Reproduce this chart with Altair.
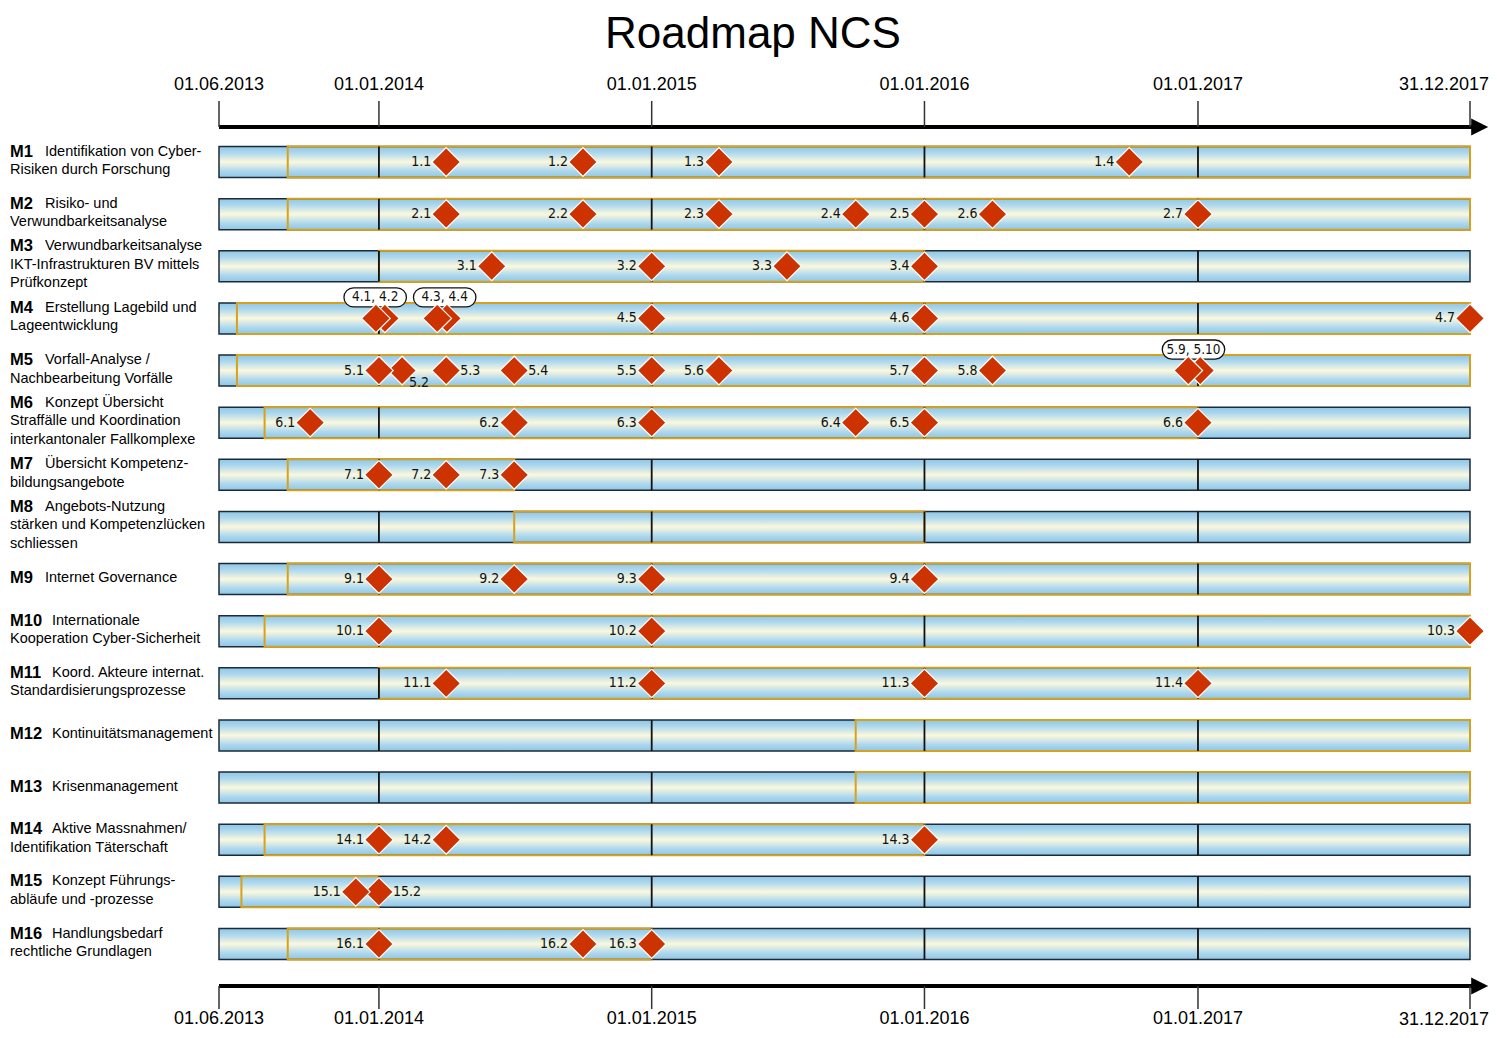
import altair as alt
import pandas as pd

# ---------------- data ----------------
title_text = "Roadmap NCS"

row_codes = ["M1", "M2", "M3", "M4", "M5", "M6", "M7", "M8",
             "M9", "M10", "M11", "M12", "M13", "M14", "M15", "M16"]
row_desc = [
    ["Identifikation von Cyber-", "Risiken durch Forschung"],
    ["Risiko- und", "Verwundbarkeitsanalyse"],
    ["Verwundbarkeitsanalyse", "IKT-Infrastrukturen BV mittels", "Prüfkonzept"],
    ["Erstellung Lagebild und", "Lageentwicklung"],
    ["Vorfall-Analyse /", "Nachbearbeitung Vorfälle"],
    ["Konzept Übersicht", "Straffälle und Koordination", "interkantonaler Fallkomplexe"],
    ["Übersicht Kompetenz-", "bildungsangebote"],
    ["Angebots-Nutzung", "stärken und Kompetenzlücken", "schliessen"],
    ["Internet Governance"],
    ["Internationale", "Kooperation Cyber-Sicherheit"],
    ["Koord. Akteure internat.", "Standardisierungsprozesse"],
    ["Kontinuitätsmanagement"],
    ["Krisenmanagement"],
    ["Aktive Massnahmen/", "Identifikation Täterschaft"],
    ["Konzept Führungs-", "abläufe und -prozesse"],
    ["Handlungsbedarf", "rechtliche Grundlagen"],
]
act_start = ["2013-09-01", "2013-09-01", "2014-01-01", "2013-06-25", "2013-06-25", "2013-08-01",
             "2013-09-01", "2014-07-01", "2013-09-01", "2013-08-01", "2014-01-01", "2015-10-01",
             "2015-10-01", "2013-08-01", "2013-07-01", "2013-09-01"]
act_end = ["2017-12-31", "2017-12-31", "2016-01-01", "2017-12-31", "2017-12-31", "2017-01-01",
           "2014-07-01", "2016-01-01", "2017-12-31", "2017-12-31", "2017-12-31", "2017-12-31",
           "2017-12-31", "2016-01-01", "2014-01-01", "2015-01-01"]

span_start = "2013-06-01"
span_end = "2017-12-31"
arrow_end = "2018-01-13"
year_lines = ["2014-01-01", "2015-01-01", "2016-01-01", "2017-01-01"]
tick_dates = ["2013-06-01", "2014-01-01", "2015-01-01", "2016-01-01", "2017-01-01", "2017-12-31"]
tick_labels = ["01.06.2013", "01.01.2014", "01.01.2015", "01.01.2016", "01.01.2017", "31.12.2017"]

ms_code = (["M1"] * 4 + ["M2"] * 7 + ["M3"] * 4 + ["M4"] * 7 + ["M5"] * 10 + ["M6"] * 6
           + ["M7"] * 3 + ["M9"] * 4 + ["M10"] * 3 + ["M11"] * 4 + ["M14"] * 3 + ["M15"] * 2 + ["M16"] * 3)
ms_id = ["1.1", "1.2", "1.3", "1.4",
         "2.1", "2.2", "2.3", "2.4", "2.5", "2.6", "2.7",
         "3.1", "3.2", "3.3", "3.4",
         "4.1", "4.2", "4.3", "4.4", "4.5", "4.6", "4.7",
         "5.1", "5.2", "5.3", "5.4", "5.5", "5.6", "5.7", "5.8", "5.9", "5.10",
         "6.1", "6.2", "6.3", "6.4", "6.5", "6.6",
         "7.1", "7.2", "7.3",
         "9.1", "9.2", "9.3", "9.4",
         "10.1", "10.2", "10.3",
         "11.1", "11.2", "11.3", "11.4",
         "14.1", "14.2", "14.3",
         "15.1", "15.2",
         "16.1", "16.2", "16.3"]
ms_date = ["2014-04-01", "2014-10-01", "2015-04-01", "2016-10-01",
           "2014-04-01", "2014-10-01", "2015-04-01", "2015-10-01", "2016-01-01", "2016-04-01", "2017-01-01",
           "2014-06-01", "2015-01-01", "2015-07-01", "2016-01-01",
           "2013-12-28", "2014-01-09", "2014-03-20", "2014-04-02", "2015-01-01", "2016-01-01", "2017-12-31",
           "2014-01-01", "2014-02-01", "2014-04-01", "2014-07-01", "2015-01-01", "2015-04-01", "2016-01-01",
           "2016-04-01", "2016-12-19", "2017-01-04",
           "2013-10-01", "2014-07-01", "2015-01-01", "2015-10-01", "2016-01-01", "2017-01-01",
           "2014-01-01", "2014-04-01", "2014-07-01",
           "2014-01-01", "2014-07-01", "2015-01-01", "2016-01-01",
           "2014-01-01", "2015-01-01", "2017-12-31",
           "2014-04-01", "2015-01-01", "2016-01-01", "2017-01-01",
           "2014-01-01", "2014-04-01", "2016-01-01",
           "2013-12-01", "2014-01-01",
           "2014-01-01", "2014-10-01", "2015-01-01"]
label_right = ["5.3", "5.4", "15.2"]
label_below = ["5.2"]
box_code = ["M4", "M4", "M5"]
box_text = ["4.1, 4.2", "4.3, 4.4", "5.9, 5.10"]
box_date = ["2013-12-27", "2014-03-30", "2016-12-26"]

# ---------------- layout / style ----------------
W, H = 1251, 852
ROW_PX = (H - 70) / 15.0
PAD = 35 / ROW_PX
HALF = 15.5 / ROW_PX

SANS = "Liberation Sans, Arial, Helvetica, sans-serif"
NARROW = "Liberation Sans Narrow, DejaVu Sans Condensed, Arial Narrow, sans-serif"
RED = "#CC3300"
GOLD = "#D6A21E"
DARK = "#1d2b38"

t0 = pd.Timestamp(span_start)


def day(s):
    return int((pd.Timestamp(s) - t0).days)


total = day(span_end)
row_of = {c: i for i, c in enumerate(row_codes)}

rows_df = pd.DataFrame({
    "code": row_codes,
    "row": list(range(len(row_codes))),
    "s": 0,
    "e": total,
    "a0": [day(d) for d in act_start],
    "a1": [day(d) for d in act_end],
})
rows_df["y0"] = rows_df["row"] - HALF
rows_df["y1"] = rows_df["row"] + HALF

year_df = pd.DataFrame([
    {"row": r, "d": day(d), "y0": r - HALF, "y1": r + HALF}
    for r in range(len(row_codes)) for d in year_lines
])

boxed = set()
for t in box_text:
    boxed.update(t.split(", "))


def place(i):
    if i in boxed:
        return "box"
    if i in label_right:
        return "right"
    if i in label_below:
        return "below"
    return "left"


ms_df = pd.DataFrame({"code": ms_code, "id": ms_id, "d": [day(d) for d in ms_date]})
ms_df["row"] = ms_df["code"].map(row_of)
ms_df["place"] = ms_df["id"].map(place)
ms_df = ms_df.sort_values("d", ascending=False).reset_index(drop=True)

box_df = pd.DataFrame({"code": box_code, "t": box_text, "d": [day(d) for d in box_date]})
box_df["yb"] = box_df["code"].map(row_of) - 21 / ROW_PX

lines = []
for i, (c, desc) in enumerate(zip(row_codes, row_desc)):
    n = len(desc)
    for li, txt in enumerate(desc):
        lines.append({"code": c, "li": li, "n": n, "text": txt,
                      "y": i + (-1 - (n - 1) * 9.5 + li * 18.5) / ROW_PX})
lines_df = pd.DataFrame(lines)

tick_df = pd.DataFrame({"d": [day(d) for d in tick_dates], "label": tick_labels,
                        "i": list(range(len(tick_dates)))})
axis_df = pd.DataFrame({"s": [0], "e": [day(arrow_end)]})
title_df = pd.DataFrame({"t": [title_text]})

xs = alt.Scale(domain=[0, total], nice=False, zero=False)
ys = alt.Scale(domain=[-PAD, 15 + PAD], nice=False, zero=False, reverse=True)


def X(f):
    return alt.X(f, type="quantitative", scale=xs, axis=None)


def Y(f):
    return alt.Y(f, type="quantitative", scale=ys, axis=None)


grad = alt.LinearGradient(
    gradient="linear", x1=0, x2=0, y1=0, y2=1,
    stops=[alt.GradientStop(offset=0, color="#8ec6e6"),
           alt.GradientStop(offset=0.2, color="#acd7ee"),
           alt.GradientStop(offset=0.5, color="#fbf8de"),
           alt.GradientStop(offset=0.8, color="#acd7ee"),
           alt.GradientStop(offset=1, color="#8ec6e6")])

full_bars = alt.Chart(rows_df).mark_rect(fill=grad, stroke=DARK, strokeWidth=1.5).encode(
    x=X("s"), x2="e", y=Y("y0"), y2="y1")
active_bars = alt.Chart(rows_df).mark_rect(fill="transparent", stroke=GOLD, strokeWidth=2).encode(
    x=X("a0"), x2="a1", y=Y("y0"), y2="y1")
ylines = alt.Chart(year_df).mark_rule(color="#111111", strokeWidth=1.8).encode(
    x=X("d"), y=Y("y0"), y2="y1")

PILL = ("M -0.694 -0.306 L 0.694 -0.306 C 0.863 -0.306 1 -0.169 1 0 C 1 0.169 0.863 0.306 0.694 0.306 "
        "L -0.694 0.306 C -0.863 0.306 -1 0.169 -1 0 C -1 -0.169 -0.863 -0.306 -0.694 -0.306 Z")
boxes = alt.Chart(box_df).mark_point(shape=PILL, size=3900, filled=True, fill="white", stroke="#111111",
                                     strokeWidth=1.3, opacity=1).encode(x=X("d"), y=Y("yb"))
box_txt = alt.Chart(box_df).mark_text(font=NARROW, fontSize=13.5, color="#111111").encode(
    x=X("d"), y=Y("yb"), text="t")

diamonds = alt.Chart(ms_df).mark_point(shape="diamond", size=820, filled=True, fill=RED, stroke="white",
                                       strokeWidth=1.2, opacity=1).encode(x=X("d"), y=Y("row"))

lab_left = alt.Chart(ms_df[ms_df.place == "left"]).mark_text(
    font=NARROW, fontSize=14, color="#111111", align="right", dx=-15).encode(
    x=X("d"), y=Y("row"), text="id")
lab_right = alt.Chart(ms_df[ms_df.place == "right"]).mark_text(
    font=NARROW, fontSize=14, color="#111111", align="left", dx=14).encode(
    x=X("d"), y=Y("row"), text="id")
lab_below = alt.Chart(ms_df[ms_df.place == "below"]).mark_text(
    font=NARROW, fontSize=14, color="#111111", align="left", dx=7, dy=12).encode(
    x=X("d"), y=Y("row"), text="id")

first2 = lines_df[(lines_df.li == 0) & (lines_df.code.str.len() == 2)]
first3 = lines_df[(lines_df.li == 0) & (lines_df.code.str.len() == 3)]
rest = lines_df[lines_df.li > 0]
codes_df = lines_df[lines_df.li == 0]

code_txt = alt.Chart(codes_df).mark_text(font=SANS, fontSize=16.5, fontWeight="bold", align="left",
                                         color="black").encode(x=alt.value(-209), y=Y("y"), text="code")
desc1a = alt.Chart(first2).mark_text(font=SANS, fontSize=14.5, align="left", color="black").encode(
    x=alt.value(-174), y=Y("y"), text="text")
desc1b = alt.Chart(first3).mark_text(font=SANS, fontSize=14.5, align="left", color="black").encode(
    x=alt.value(-167), y=Y("y"), text="text")
desc2 = alt.Chart(rest).mark_text(font=SANS, fontSize=14.5, align="left", color="black").encode(
    x=alt.value(-209), y=Y("y"), text="text")

ARROW = "M -1 -1 L 1 0 L -1 1 Z"
axis_layers = []
for yline, t_y0, t_y1, lab_y, last_dy in [(0, -26, 0, -42, 0), (H + 7, H + 7, H + 30, H + 40, 1)]:
    axis_layers.append(alt.Chart(axis_df).mark_rule(color="black", strokeWidth=4).encode(
        x=X("s"), x2="e", y=alt.value(yline)))
    axis_layers.append(alt.Chart(axis_df).mark_point(shape=ARROW, size=289, filled=True, color="black",
                                                     opacity=1).encode(x=X("e"), y=alt.value(yline)))
    axis_layers.append(alt.Chart(tick_df).mark_rule(color="#333333", strokeWidth=1.5).encode(
        x=X("d"), y=alt.value(t_y0), y2=alt.value(t_y1)))
    axis_layers.append(alt.Chart(tick_df[tick_df.i < 5]).mark_text(font=SANS, fontSize=18, color="black").encode(
        x=X("d"), y=alt.value(lab_y), text="label"))
    axis_layers.append(alt.Chart(tick_df[tick_df.i == 5]).mark_text(
        font=SANS, fontSize=18, color="black", dx=-26, dy=last_dy).encode(
        x=X("d"), y=alt.value(lab_y), text="label"))

title = alt.Chart(title_df).mark_text(font=SANS, fontSize=44, color="black").encode(
    x=alt.value(534), y=alt.value(-92), text="t")

chart = alt.layer(
    full_bars, active_bars, ylines, boxes, box_txt, diamonds,
    lab_left, lab_right, lab_below,
    code_txt, desc1a, desc1b, desc2,
    *axis_layers, title
).properties(
    width=W, height=H,
    autosize=alt.AutoSizeParams(type="none"),
    padding={"left": 211, "top": 119, "right": 19, "bottom": 51},
).configure_view(stroke="transparent")

chart.save("out.html", embed_options={"renderer": "svg", "actions": False})
